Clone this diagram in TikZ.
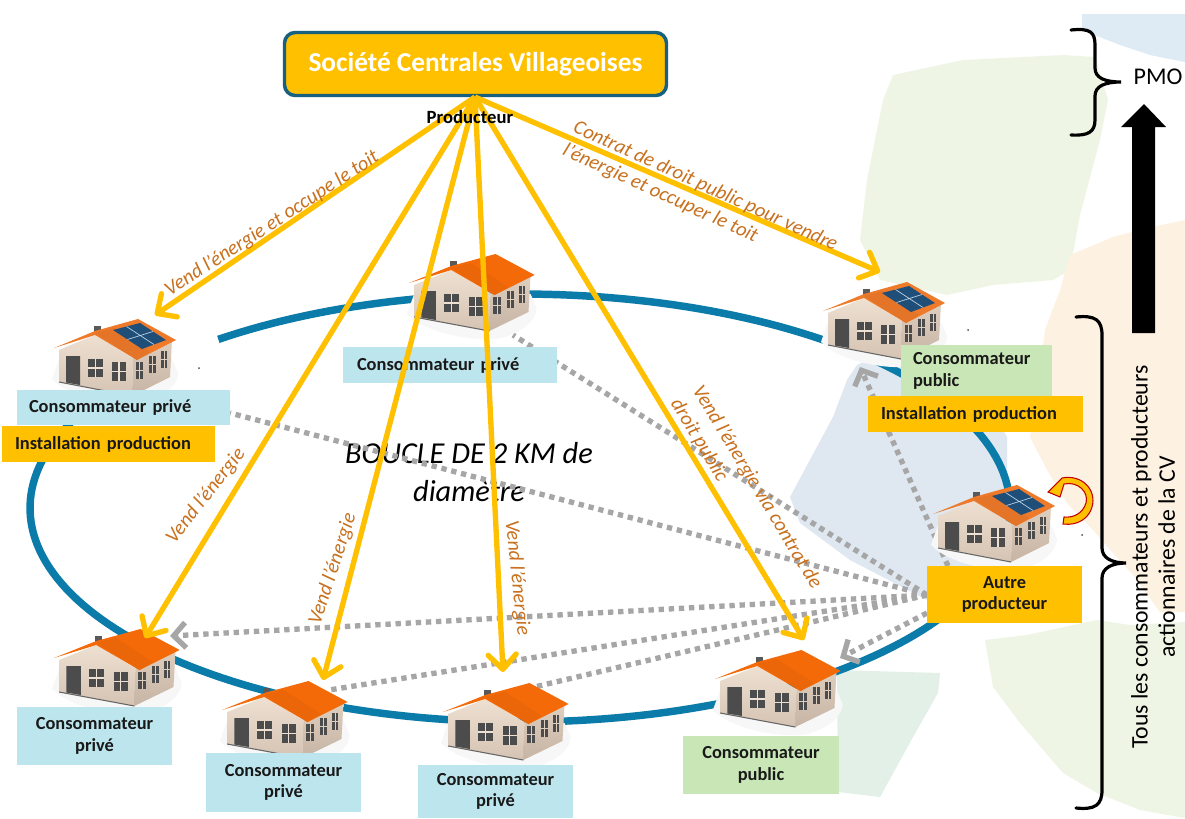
\documentclass[tikz,border=0pt]{standalone}
\usepackage{fontspec}
\setmainfont{Carlito}
\usetikzlibrary{arrows.meta,calc}
\definecolor{sun}{HTML}{FFC000}
\definecolor{ringblue}{HTML}{0B7BAA}
\definecolor{lbluebox}{HTML}{BDE5EE}
\definecolor{lgreenbox}{HTML}{C9E6B6}
\definecolor{ocre}{HTML}{C8711F}
\definecolor{dots}{HTML}{A6A6A6}
\definecolor{roofA}{HTML}{F46A08}
\definecolor{roofB}{HTML}{EE7A2A}
\definecolor{bgB}{HTML}{DEEBF4}
\definecolor{bgG}{HTML}{EFF5E4}
\definecolor{bgP}{HTML}{FDF1E1}
\definecolor{bgT}{HTML}{E2F0E8}
\definecolor{bgS}{HTML}{DFE7F0}
\definecolor{wallA}{HTML}{EEE0D2}
\definecolor{wallB}{HTML}{D5C3B2}
\definecolor{wallC}{HTML}{DFCFBF}
\definecolor{wallD}{HTML}{C6B4A4}
\definecolor{panel}{HTML}{1F4E79}
\definecolor{panelL}{HTML}{BFD4E6}
\definecolor{loopR}{HTML}{C00000}
\definecolor{cvb}{HTML}{17607F}
\def\P{0.75pt}
\newcommand\housebody[1]{%
  \fill[black!3] (-2,60) .. controls (20,82) and (70,88) .. (90,84) .. controls (110,78) and (124,66) .. (124,54) -- (118,40) -- (5,40) -- cycle;
  \path[top color=wallA,bottom color=wallB] (5,31) -- (41,16) -- (79,39) -- (78,77) -- (5,63) -- cycle;
  \path[top color=wallC,bottom color=wallD] (79,39) -- (118,21) -- (116,58) -- (78,77) -- cycle;
  \draw[black!60,line width=0.8pt] (5,63) -- (78,77);
  \fill[black!70] (12,37) -- (26,37) -- (26,66) -- (12,63.5) -- cycle;
  \foreach \a/\b/\c/\d in {34/49/40/58,58/72/43/62}{
    \fill[black!70] (\a,\c) rectangle (\b,\d);
    \draw[wallA,line width=0.8pt] ({(\a+\b)/2},\c) -- ({(\a+\b)/2},\d) (\a,{(\c+\d)/2}) -- (\b,{(\c+\d)/2});
  }
  \foreach \a/\b/\c/\d in {82/89/43/60,95/102/37/54,107/113/32/49}{
    \fill[black!70] (\a,\c) rectangle (\b,\d);
    \draw[wallC,line width=0.7pt] ({(\a+\b)/2},\c) -- ({(\a+\b)/2},\d) (\a,{(\c+\d)/2}) -- (\b,{(\c+\d)/2});
  }
  \fill[black!65] (40,7) rectangle (47,13);
  \fill[#1] (0,29) -- (41,12) -- (84,0) -- (122,21) -- (83,41) -- (41,16) -- cycle;
  \fill[#1!96!black] (41,14) -- (60,9) -- (96,33) -- (83,41) -- cycle;
}
\newcommand\solarpanel{%
  \fill[panel] (59,11) -- (86,4) -- (112,21) -- (88,30) -- cycle;
  \draw[panelL,line width=0.5pt] (72.5,7.5) -- (100,25.5) (73.5,20.5) -- (99,12.5);
}
\newcommand\onehouse[4]{%
  \begin{scope}[shift={(#1,#2)},xscale=#3]\housebody{#4}\end{scope}}
\newcommand\solarhouse[3]{%
  \begin{scope}[shift={(#1,#2)},xscale=#3]\housebody{roofB}\solarpanel\end{scope}}
\tikzset{
  yarrow/.style={draw=sun,line width=4pt,-{Straight Barb[length=11pt,width=21pt,round]}},
  gline/.style={draw=dots,line width=4pt,dash pattern=on 4pt off 3.6pt},
  garrow/.style={gline,-{Straight Barb[length=9pt,width=19pt]}},
  lab/.style={font=\fontsize{13.8}{16}\selectfont\bfseries,inner sep=0pt,align=center,text=black!90},
  orl/.style={font=\fontsize{15.2}{19}\selectfont\itshape,text=ocre,inner sep=0pt},
  brace/.style={draw=black,line width=2.4pt,line cap=round},
}
\begin{document}
\begin{tikzpicture}[x=0.75pt,y=-0.75pt]
\useasboundingbox (0,0) rectangle (1185,818);
\fill[white] (0,0) rectangle (1185,818);
% pastel backgrounds
\fill[bgB] (1082,14) -- (1185,14) -- (1185,62) -- (1150,55) -- (1120,45) -- (1082,30) -- cycle;
\fill[bgG] (893,75) -- (963,60) -- (1063,55) -- (1095,57) -- (1108,100) -- (1100,140) -- (1080,215) -- (1070,270) -- (1053,280) -- (993,285) -- (947,295) -- (880,280) -- (860,240) -- (867,180) -- (883,100) -- cycle;
\fill[bgP] (1185,220) -- (1147,228) -- (1113,237) -- (1070,255) -- (1060,290) -- (1045,330) -- (1040,370) -- (1030,437) -- (1047,470) -- (1067,503) -- (1093,530) -- (1113,553) -- (1133,575) -- (1160,612) -- (1185,612) -- cycle;
\fill[bgG] (985,640) -- (1027,635) -- (1097,620) -- (1130,625) -- (1185,622) -- (1185,818) -- (1140,810) -- (1097,793) -- (1063,773) -- (1020,723) -- (993,687) -- cycle;
\fill[bgT] (837,670) -- (940,673) -- (938,693) -- (913,737) -- (880,797) -- (838,792) -- cycle;
\fill[bgS] (857,365) -- (900,345) -- (985,400) -- (1007,437) -- (1007,483) -- (1000,565) -- (927,600) -- (850,560) -- (800,523) -- (790,497) -- (833,417) -- (847,380) -- cycle;
% ring
\draw[ringblue,line width=5.6pt,domain=155:488,samples=220,variable=\t] plot ({520+490*cos(\t)},{508-214*sin(\t)});
% central text (under the dotted lines)
\node[font=\fontsize{22.8}{28}\selectfont\itshape,align=center,inner sep=0pt] (boucle) at (469,472) {BOUCLE DE 2 KM de\\diamètre};
% named ends
\coordinate (src) at (475,97);
\coordinate (tTL) at (155,315);
\coordinate (tB1) at (145,638);
\coordinate (tB2) at (323,680);
\coordinate (tB3) at (503,672);
\coordinate (tB4) at (804,640);
\coordinate (tTR) at (880,272);
\coordinate (gTL) at (230,413);
\coordinate (gC) at (513,335);
\coordinate (gB1) at (170,636);
\coordinate (gB2) at (329,690);
\coordinate (gB3) at (530,688);
\coordinate (gB4) at (840,658);
\coordinate (gTR) at (860,367);
\coordinate (aW) at (927,595);
\coordinate (aN) at (948,566);
\coordinate (aS) at (927,613);
\draw[gline] (aW) -- (gTL);
\draw[gline] (aW) -- (gC);
\draw[garrow] (aW) -- (gB1);
\draw[gline] (aW) -- (gB2);
\draw[gline] (aW) -- (gB3);
\draw[garrow] (aS) -- (gB4);
\draw[garrow] (aN) -- (gTR);
% houses
\solarhouse{54}{319}{1}
\onehouse{409}{254}{1.03}{roofA}
\solarhouse{823}{282}{1}
\solarhouse{933}{485}{1}
\onehouse{54}{629}{1.03}{roofA}
\onehouse{222}{681}{1.03}{roofA}
\onehouse{443}{683}{1.03}{roofA}
\onehouse{715}{650}{1.03}{roofA}
% tiny specks
\fill[black!70] (199,368) circle (1) (968,330) circle (1) (1082,535) circle (1);
% self loop
\draw[fill=sun,draw=loopR,line width=0.8pt] (1048,492) -- (1062,478) .. controls (1082,474) and (1097,490) .. (1092,507) .. controls (1089,518) and (1078,526) .. (1063,524) -- (1064,517) .. controls (1074,518) and (1083,513) .. (1086,503) .. controls (1089,492) and (1078,481) .. (1064,484) -- (1060,497) -- cycle;
% labels
\node[fill=lbluebox,minimum width=213*\P,minimum height=35*\P,lab,align=left,text width=189*\P,inner xsep=12*\P] (cTL) at (123.5,407.5) {Consommateur privé};
\node[fill=sun,minimum width=213*\P,minimum height=36*\P,lab,align=left,text width=187*\P,inner xsep=13*\P] (iTL) at (108.5,444) {Installation production};
\node[fill=lbluebox,minimum width=214*\P,minimum height=36*\P,lab,align=left,text width=186*\P,inner xsep=14*\P] (cC) at (450,365) {Consommateur privé};
\node[fill=lbluebox,minimum width=155*\P,minimum height=58*\P,lab] (cB1) at (94.5,736) {Consommateur\\privé};
\node[fill=lbluebox,minimum width=155*\P,minimum height=59*\P,lab] (cB2) at (283.5,782.5) {Consommateur\\privé};
\node[fill=lbluebox,minimum width=155*\P,minimum height=53*\P,lab] (cB3) at (495.5,791.5) {Consommateur\\privé};
\node[fill=lgreenbox,minimum width=156*\P,minimum height=58*\P,lab] (cB4) at (761,765) {Consommateur\\public};
\node[fill=lgreenbox,minimum width=151*\P,minimum height=52*\P,lab,align=left,text width=127*\P,inner xsep=12*\P] (cTR) at (976.5,371) {Consommateur\\public};
\node[fill=sun,minimum width=215*\P,minimum height=36*\P,lab,align=left,text width=189*\P,inner xsep=13*\P] (iTR) at (975.5,414) {Installation production};
\node[fill=sun,minimum width=155*\P,minimum height=57*\P,lab] (autre) at (1004.5,594.5) {Autre\\producteur};
% top box
\node[draw=cvb,fill=sun,line width=2.6pt,rounded corners=8pt,minimum width=382*\P,minimum height=63*\P,text=white,font=\fontsize{20.5}{24}\selectfont\bfseries] (cv) at (475.5,64) {Société Centrales Villageoises};
% yellow arrows
\draw[yarrow] (src) -- (tTL);
\draw[yarrow] (src) -- (tB1);
\draw[yarrow] (src) -- (tB2);
\draw[yarrow] (src) -- (tB3);
\draw[yarrow] (src) -- (tB4);
\draw[yarrow] (src) -- (tTR);
\node[font=\fontsize{14}{16}\selectfont\bfseries,inner sep=0pt] (prod) at (470,117) {Producteur};
% orange texts
\node[orl,rotate=33] (l1) at (272,224) {Vend l’énergie et occupe le toit};
\node[orl,rotate=-24.5,align=left] (l2) at (700,198) {Contrat de droit public pour vendre\\l’énergie et occuper le toit};
\node[orl,rotate=52] (l3) at (206,496) {Vend l’énergie};
\node[orl,rotate=72] (l4) at (333,569) {Vend l’énergie};
\node[orl,rotate=-84] (l5) at (517,578) {Vend l’énergie};
\node[orl,rotate=-59,align=left] (l6) at (746,494) {Vend l’énergie via contrat de\\droit public};
% right column
\draw[brace] (1071,30) .. controls (1090,28) and (1095,32) .. (1095,45) -- (1095,68) .. controls (1095,78) and (1105,82) .. (1121,82) .. controls (1105,82) and (1095,86) .. (1095,96) -- (1095,120) .. controls (1095,132) and (1088,136) .. (1071,135);
\draw[brace] (1076,317) .. controls (1095,315) and (1102,320) .. (1102,335) -- (1102,548) .. controls (1102,558) and (1112,563) .. (1126,563) .. controls (1112,563) and (1102,568) .. (1102,578) -- (1102,790) .. controls (1102,805) and (1095,810) .. (1076,808);
\fill[black] (1132,333) -- (1132,127) -- (1121,127) -- (1144,104) -- (1166,127) -- (1155,127) -- (1155,333) -- cycle;
\node[font=\fontsize{18}{20}\selectfont,inner sep=0pt] (pmo) at (1158,77) {PMO};
\node[font=\fontsize{17.8}{20.5}\selectfont,rotate=90,align=center,inner sep=0pt] (tous) at (1153,557) {Tous les consommateurs et producteurs\\actionnaires de la CV};
\end{tikzpicture}
\end{document}
